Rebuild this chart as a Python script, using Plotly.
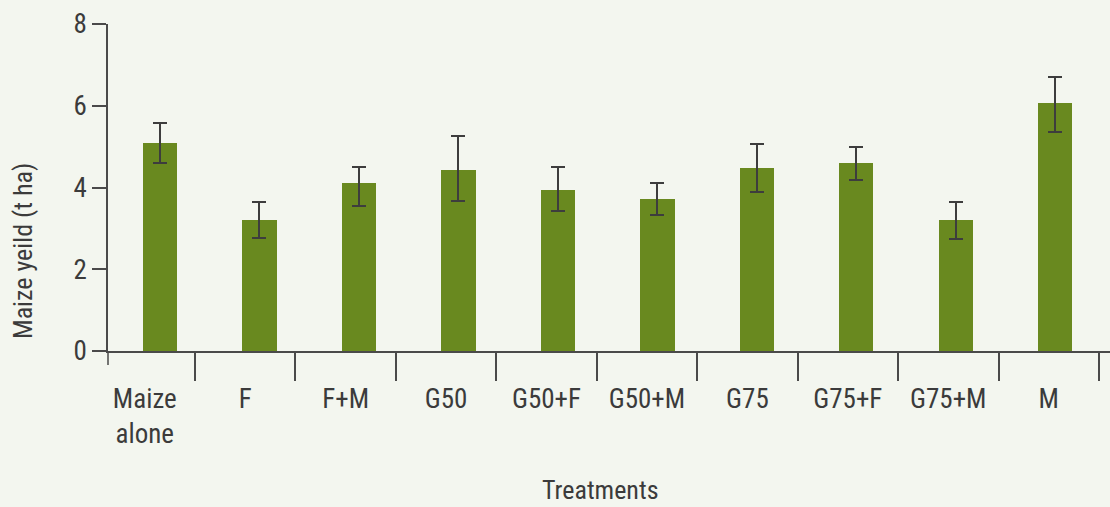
import plotly.graph_objects as go

# Treatment categories and mean maize yield (t/ha) with error ranges
treatments = ["Maize<br>alone", "F", "F+M", "G50", "G50+F", "G50+M",
              "G75", "G75+F", "G75+M", "M"]
yield_mean = [5.08, 3.20, 4.10, 4.44, 3.95, 3.73, 4.47, 4.59, 3.20, 6.06]
err_plus = [0.51, 0.44, 0.39, 0.83, 0.56, 0.39, 0.59, 0.41, 0.44, 0.64]
err_minus = [0.48, 0.43, 0.56, 0.78, 0.53, 0.40, 0.57, 0.41, 0.46, 0.69]
y_ticks = [0, 2, 4, 6, 8]

FONT = "Roboto Condensed, Liberation Sans Narrow, DejaVu Sans Condensed, sans-serif"
TEXT = "#3b3b3b"
AXIS = "#4a4a4a"
BG = "#f3f6ef"
BAR = "#69891f"

fig = go.Figure()

# invisible baseline trace that carries the category axis with boundary ticks
fig.add_trace(go.Scatter(
    x=treatments, y=[0] * len(treatments), xaxis="x", yaxis="y",
    mode="markers", marker=dict(opacity=0, size=1),
    hoverinfo="skip", showlegend=False,
))

# bars on an overlaid category axis so they sit independently of the boundary ticks
fig.add_trace(go.Bar(
    x=treatments, y=yield_mean,
    xaxis="x2", yaxis="y",
    width=0.342,
    marker=dict(color=BAR, line=dict(width=0)),
    error_y=dict(type="data", symmetric=False, array=err_plus,
                 arrayminus=err_minus, color="#3d3d3d",
                 thickness=2, width=7),
    showlegend=False,
))

fig.update_layout(
    width=1110, height=507,
    margin=dict(l=108, r=0, t=24, b=156, pad=0),
    paper_bgcolor=BG, plot_bgcolor=BG,
    font=dict(family=FONT, color=TEXT),
    bargap=0,
    xaxis=dict(
        type="category", categoryorder="array", categoryarray=treatments,
        range=[-0.366, 9.61],
        tickson="boundaries", ticks="outside", ticklen=28,
        tickwidth=1.5, tickcolor=AXIS,
        ticklabelstandoff=23,
        showline=True, linecolor=AXIS, linewidth=1.5,
        showgrid=False, zeroline=False,
        tickfont=dict(size=27, family=FONT, color=TEXT),
    ),
    xaxis2=dict(
        type="category", categoryorder="array", categoryarray=treatments,
        overlaying="x", range=[-0.5226, 9.548], visible=False,
        showgrid=False, zeroline=False,
    ),
    yaxis=dict(
        range=[0, 8], tickmode="array", tickvals=y_ticks,
        ticks="outside", ticklen=14, tickwidth=1.5, tickcolor=AXIS,
        showline=True, linecolor=AXIS, linewidth=1.5,
        showgrid=False, zeroline=False,
        tickfont=dict(size=27, family=FONT, color=TEXT),
    ),
    shapes=[
        # short extension of the value axis below the baseline
        dict(type="line", xref="paper", yref="paper",
             x0=0, x1=0, y0=0, y1=-14 / 327,
             line=dict(color=AXIS, width=1.5)),
    ],
    annotations=[
        dict(text="Maize yeild (t ha)", xref="paper", yref="paper",
             x=-85 / 1002, y=(351 - 251) / 327, textangle=-90,
             showarrow=False, xanchor="center", yanchor="middle",
             font=dict(size=26, family=FONT, color=TEXT)),
        dict(text="Treatments", xref="paper", yref="paper",
             x=(600 - 108) / 1002, y=-(507 - 351) / 327,
             showarrow=False, xanchor="center", yanchor="bottom",
             font=dict(size=26, family=FONT, color=TEXT)),
    ],
)

fig.write_html("out.html")
